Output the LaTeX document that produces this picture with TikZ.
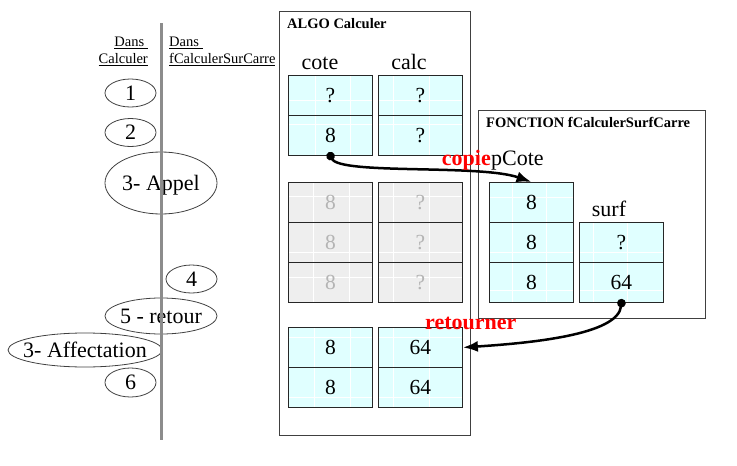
\documentclass[tikz,border=0pt]{standalone}
\usepackage{fontspec}
\setmainfont{Liberation Serif}
\usetikzlibrary{shapes.geometric,arrows.meta,calc}
\definecolor{cellcyan}{HTML}{E0FFFF}
\definecolor{cellgrey}{HTML}{EEEEEE}
\definecolor{greytext}{HTML}{B4B4B4}
\definecolor{vline}{HTML}{8C8C8C}
\newcommand\myfs[1]{\fontsize{#1}{#1}\selectfont}
\begin{document}
\begin{tikzpicture}[x=1pt,y=-1pt,
  cell/.style={rectangle, anchor=north west, minimum width=84pt, minimum height=40pt,
    inner sep=0pt, fill=cellcyan, draw=black!85, line width=0.9pt, font=\myfs{21.5},
    text height=14pt, text depth=0pt},
  ghost/.style={cell, fill=cellgrey, text=greytext},
  grid/.style n args={3}{path picture={\draw[white, line width=0.8pt]
    ([xshift=#1pt]path picture bounding box.north west) -- ([xshift=#1pt]path picture bounding box.south west)
    ([xshift=#2pt]path picture bounding box.north west) -- ([xshift=#2pt]path picture bounding box.south west)
    ([yshift=-#3pt]path picture bounding box.north west) -- ([yshift=-#3pt]path picture bounding box.north east);}},
  ell/.style={ellipse, draw=black!75, line width=0.8pt, inner sep=0pt},
  lbl/.style={font=\myfs{22}, inner sep=0pt, text height=14.5pt, text depth=0pt},
  varlbl/.style={font=\myfs{22}, inner sep=0pt, anchor=base},
  hdr/.style={font=\fontsize{14.5}{17}\selectfont, inner sep=0pt},
  boxtitle/.style={font=\bfseries\myfs{14.5}, inner sep=0pt, anchor=base west},
  redlbl/.style={font=\bfseries\myfs{22}, text=red, inner sep=0pt},
  conn/.style={line width=2.5pt, {Circle[length=8.5pt]}-{Latex[length=15pt,width=11pt]}},
  frame/.style={rectangle, anchor=north west, draw=black!75, line width=1pt, inner sep=0pt}
]
\useasboundingbox (0,0) rectangle (737,466);

% headers
\node[hdr, anchor=north east, align=right] (hl) at (148,37) {\underline{Dans\ }\\\underline{Calculer}};
\node[hdr, anchor=north west, align=left] (hr) at (169,37) {\underline{Dans\ }\\\underline{fCalculerSurCarre}};

% step ellipses
\node[ell, minimum width=51pt, minimum height=28pt, label={[lbl]center:1}] (e1) at (130.5,93) {};
\node[ell, minimum width=51pt, minimum height=28pt, label={[lbl]center:2}] (e2) at (130.5,132.5) {};
\node[ell, minimum width=112pt, minimum height=62pt, label={[lbl]center:3- Appel}] (e3) at (161,183) {};
\node[ell, minimum width=51pt, minimum height=28pt, label={[lbl]center:4}] (e4) at (191.5,279) {};
\node[ell, minimum width=112pt, minimum height=36pt, label={[lbl]center:5 - retour}] (e5) at (161,316) {};
\node[ell, minimum width=154pt, minimum height=34pt, label={[lbl]center:3- Affectation}] (e3b) at (85,350) {};
\node[ell, minimum width=51pt, minimum height=29pt, label={[lbl]center:6}] (e6) at (130.5,382.5) {};

% vertical separator
\coordinate (vt) at (161,23);
\coordinate (vb) at (161,440);
\draw[vline, line width=3pt] (vt) -- (vb);

% frames
\node[frame, minimum width=191pt, minimum height=424pt] (algo) at (279,11) {};
\node[boxtitle] (algot) at (287,28.3) {ALGO Calculer};
\node[frame, minimum width=227pt, minimum height=208pt] (fonc) at (478,110) {};
\node[boxtitle] (fonct) at (486,127.3) {FONCTION fCalculerSurfCarre};

% variable labels
\node[varlbl] (lcote) at (320,69) {cote};
\node[varlbl] (lcalc) at (409,69) {calc};
\node[varlbl, anchor=base west] (lpcote) at (491,165) {pCote};
\node[varlbl] (lsurf) at (609,216.7) {surf};

% ALGO top block
\node[cell, grid={27}{62}{25}] (a11) at (288,75) {?};
\node[cell, grid={15}{51}{25}] (a12) at (378,75) {?};
\node[cell, grid={27}{62}{9}] (a21) at (288,115) {8};
\node[cell, grid={15}{51}{9}] (a22) at (378,115) {?};

% ALGO ghost block
\node[ghost, grid={25}{61}{14}] (g11) at (288,182) {8};
\node[ghost, grid={15}{51}{14}] (g12) at (378,182) {?};
\node[ghost, grid={25}{61}{30}] (g21) at (288,222) {8};
\node[ghost, grid={15}{51}{30}] (g22) at (378,222) {?};
\node[ghost, grid={25}{61}{15}] (g31) at (288,262) {8};
\node[ghost, grid={15}{51}{15}] (g32) at (378,262) {?};

% ALGO bottom block
\node[cell, grid={26}{62}{10}] (b11) at (288,327) {8};
\node[cell, grid={15}{51}{10}] (b12) at (378,327) {64};
\node[cell, grid={26}{62}{30}] (b21) at (288,367) {8};
\node[cell, grid={15}{51}{30}] (b22) at (378,367) {64};

% FONCTION cells
\node[cell, grid={23}{57}{15}] (p1) at (489,182) {8};
\node[cell, grid={23}{57}{30}] (p2) at (489,222) {8};
\node[cell, grid={23}{57}{28}] (p3) at (489,262) {8};
\node[cell, grid={14}{48}{30}] (s1) at (579,222) {?};
\node[cell, grid={14}{48}{28}] (s2) at (579,262) {64};

% connectors
\draw[conn, shorten <=-4pt] (a21.south) .. controls (340,175) and (480,164) .. (p1.north);
\draw[conn, shorten <=-4pt] (s2.south) .. controls (618,335) and (530,343) .. (b12.east);

% red labels
\node[redlbl, anchor=base east] (copie) at (491,165) {copie};
\node[redlbl, anchor=base west] (ret) at (425,329) {retourner};
\end{tikzpicture}
\end{document}
